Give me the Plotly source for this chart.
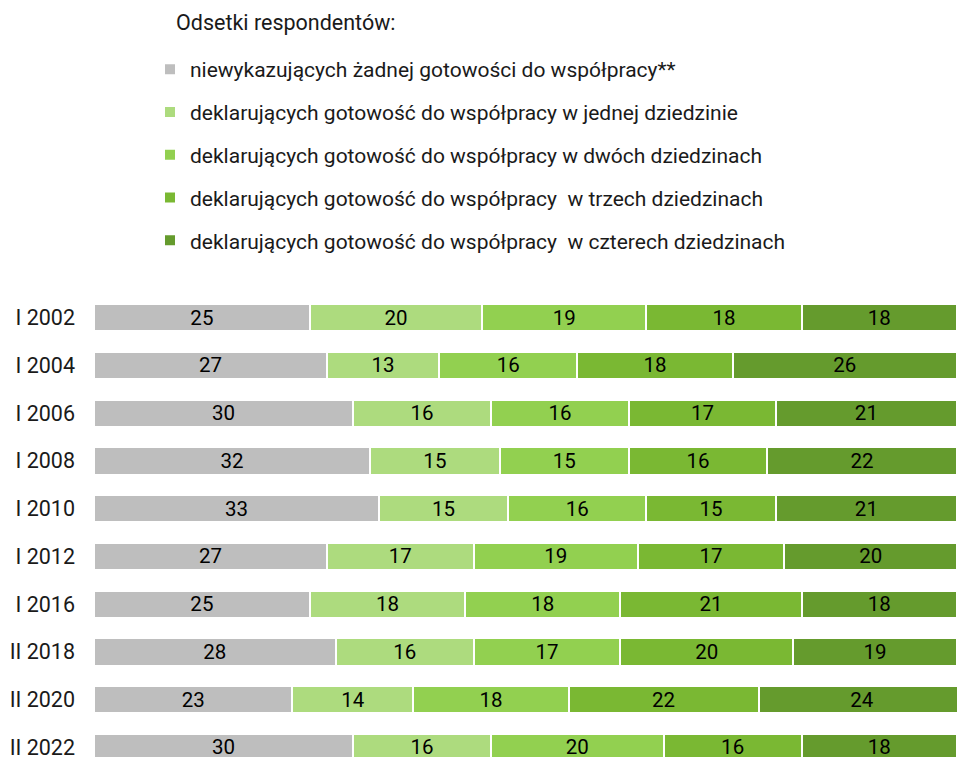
import plotly.graph_objects as go

years = ["I 2002", "I 2004", "I 2006", "I 2008", "I 2010", "I 2012", "I 2016", "II 2018", "II 2020", "II 2022"]
series_names = [
    "niewykazujących żadnej gotowości do współpracy**",
    "deklarujących gotowość do współpracy w jednej dziedzinie",
    "deklarujących gotowość do współpracy w dwóch dziedzinach",
    "deklarujących gotowość do współpracy  w trzech dziedzinach",
    "deklarujących gotowość do współpracy  w czterech dziedzinach",
]
legend_title = "Odsetki respondentów:"
none_vals = [25, 27, 30, 32, 33, 27, 25, 28, 23, 30]
one_vals = [20, 13, 16, 15, 15, 17, 18, 16, 14, 16]
two_vals = [19, 16, 16, 15, 16, 19, 18, 17, 18, 20]
three_vals = [18, 18, 17, 16, 15, 17, 21, 20, 22, 16]
four_vals = [18, 26, 21, 22, 21, 20, 18, 19, 24, 18]
colors = ["#BEBEBE", "#ADDB7E", "#92D050", "#7AB833", "#659B2D"]

all_vals = [none_vals, one_vals, two_vals, three_vals, four_vals]

FS = 21

fig = go.Figure()
for i, (name, vals, col) in enumerate(zip(series_names, all_vals, colors)):
    fig.add_trace(go.Bar(
        y=years, x=vals, name=name, orientation="h",
        marker=dict(color=col, line=dict(color="white", width=2)),
        text=[str(v) for v in vals], textposition="inside",
        insidetextanchor="middle", textangle=0, constraintext="none",
        textfont=dict(color="black", size=20.5, family="Roboto"),
        legendgroup=f"g{i}",
    ))

fig.add_annotation(
    text=legend_title, xref="paper", yref="paper",
    x=(174 - 94) / 863, y=1 + (290 - 8) / 467,
    xanchor="left", yanchor="top", showarrow=False,
    font=dict(size=21.5, color="#1a1a1a"),
)

fig.update_layout(
    barmode="stack",
    bargap=0.43,
    width=957, height=757,
    margin=dict(l=94, r=0, t=290, b=0, autoexpand=False),
    plot_bgcolor="white", paper_bgcolor="white",
    font=dict(family="Roboto", size=FS, color="#1a1a1a"),
    showlegend=True,
    legend=dict(
        orientation="v",
        x=(150 - 94) / 863, xanchor="left",
        y=1 + (290 - 49) / 467, yanchor="top",
        traceorder="grouped",
        tracegroupgap=12.5,
        font=dict(size=FS),
        bgcolor="rgba(0,0,0,0)",
    ),
    xaxis=dict(range=[0, 100], visible=False, fixedrange=True),
    yaxis=dict(
        categoryorder="array", categoryarray=years,
        range=[9.2, -0.58],
        showgrid=False, zeroline=False, showline=False,
        ticks="", ticklabelstandoff=18, automargin=False,
        tickfont=dict(size=21.5, color="#1a1a1a"),
    ),
)

fig.write_html(
    "out.html",
    config={"displayModeBar": False},
    post_script="document.body.style.margin='0';document.body.style.overflow='hidden';",
)
